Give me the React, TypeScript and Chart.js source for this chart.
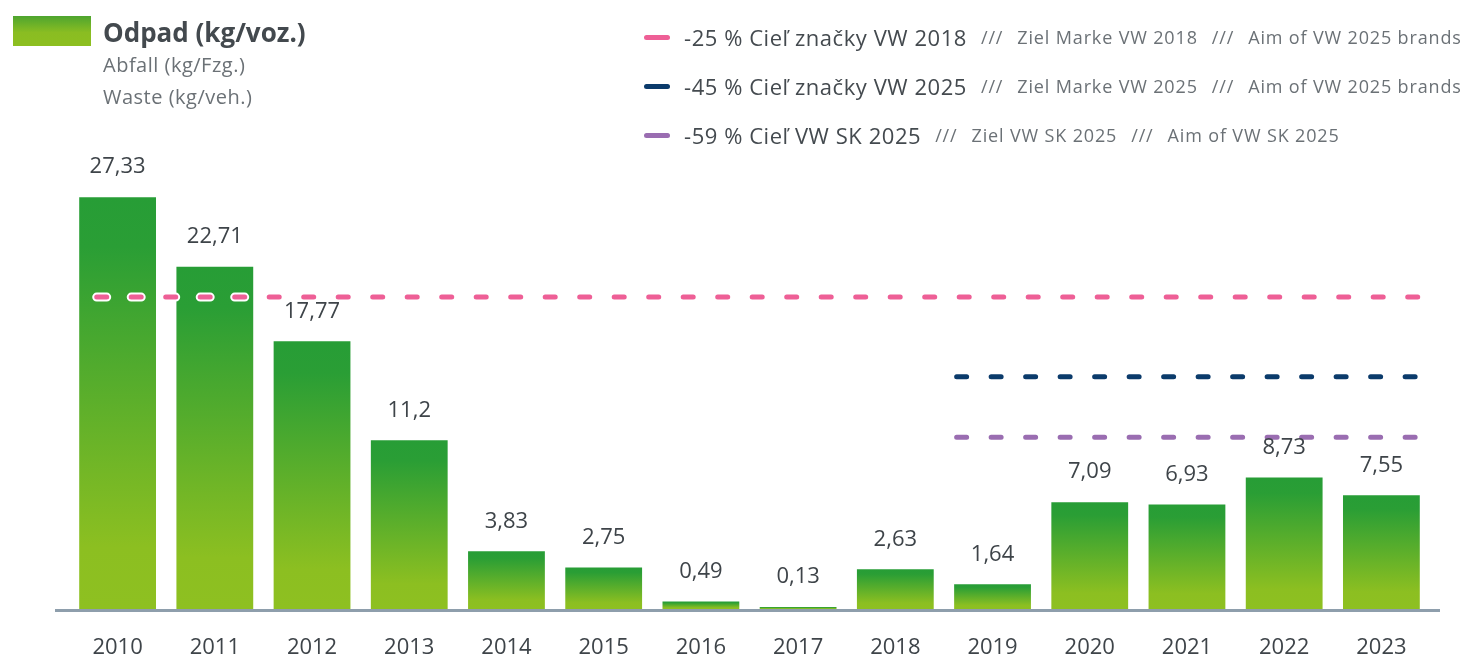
import React, { useEffect, useRef } from "react";
import { Chart, registerables } from "chart.js";

Chart.register(...registerables);

const years = ["2010", "2011", "2012", "2013", "2014", "2015", "2016", "2017", "2018", "2019", "2020", "2021", "2022", "2023"];
const wasteValues = [27.33, 22.71, 17.77, 11.2, 3.83, 2.75, 0.49, 0.13, 2.63, 1.64, 7.09, 6.93, 8.73, 7.55];

const targetMain = ["-25 % Cieľ značky VW 2018", "-45 % Cieľ značky VW 2025", "-59 % Cieľ VW SK 2025"];
const targetGerman = ["Ziel Marke VW 2018", "Ziel Marke VW 2025", "Ziel VW SK 2025"];
const targetEnglish = ["Aim of VW 2025 brands", "Aim of VW 2025 brands", "Aim of VW SK 2025"];
const targetValues = [20.7, 15.42, 11.4];
const targetStartYear = ["2010", "2019", "2019"];
const targetColors = ["#ee5f96", "#0b3b6b", "#9a6db1"];
const targetInset = [15, 0, 0];

const titleMain = "Odpad (kg/voz.)";
const titleSub = ["Abfall (kg/Fzg.)", "Waste (kg/veh.)"];

const FONT = "'Open Sans', 'Noto Sans', sans-serif";
const TEXT_DARK = "#3e4449";
const TEXT_LIGHT = "#6b7176";

const barGradient = (ctx: any) => {
  const chart = ctx.chart;
  const { chartArea, scales } = chart;
  if (!chartArea || ctx.raw === undefined) return "#5aae2b";
  const yTop = scales.y.getPixelForValue(ctx.raw);
  const yBot = scales.y.getPixelForValue(0);
  const g = chart.ctx.createLinearGradient(0, yTop, 0, yBot);
  g.addColorStop(0, "#279d36");
  g.addColorStop(0.12, "#2a9e35");
  g.addColorStop(0.85, "#8cbf21");
  g.addColorStop(1, "#8ec021");
  return g;
};

const decorPlugin = {
  id: "decor",
  afterDatasetsDraw(chart: any) {
    const { ctx, chartArea, scales } = chart;
    const meta = chart.getDatasetMeta(0);
    const barW = meta.data[0] ? meta.data[0].width : 0;
    // baseline
    ctx.save();
    ctx.strokeStyle = "#8e9eac";
    ctx.lineWidth = 3;
    ctx.beginPath();
    ctx.moveTo(chartArea.left - 14, chartArea.bottom + 1.5);
    ctx.lineTo(chartArea.right + 10, chartArea.bottom + 1.5);
    ctx.stroke();
    ctx.restore();
    // target lines
    targetValues.forEach((v, i) => {
      const y = scales.y.getPixelForValue(v);
      const startIdx = years.indexOf(targetStartYear[i]);
      const x0 = scales.x.getPixelForValue(startIdx) - barW / 2 + targetInset[i];
      const x1 = scales.x.getPixelForValue(years.length - 1) + barW / 2;
      ctx.save();
      ctx.lineCap = "round";
      ctx.setLineDash([10, 24.5]);
      ctx.strokeStyle = "#ffffff";
      ctx.lineWidth = 9;
      ctx.beginPath();
      ctx.moveTo(x0 + 2.5, y);
      ctx.lineTo(x1, y);
      ctx.stroke();
      ctx.strokeStyle = targetColors[i];
      ctx.lineWidth = 5;
      ctx.beginPath();
      ctx.moveTo(x0 + 2.5, y);
      ctx.lineTo(x1, y);
      ctx.stroke();
      ctx.restore();
    });
    // value labels
    ctx.save();
    ctx.font = `22px ${FONT}`;
    ctx.fillStyle = TEXT_DARK;
    ctx.textAlign = "center";
    ctx.textBaseline = "middle";
    meta.data.forEach((el: any, i: number) => {
      ctx.fillText(String(wasteValues[i]).replace(".", ","), el.x, el.y - 30);
    });
    ctx.restore();
  },
};

export default function App() {
  const canvasRef = useRef<HTMLCanvasElement>(null);

  useEffect(() => {
    document.body.style.margin = "0";
    const canvas = canvasRef.current;
    if (!canvas) return;
    const chart = new Chart(canvas, {
      type: "bar",
      data: {
        labels: years,
        datasets: [
          {
            label: titleMain,
            data: wasteValues,
            backgroundColor: barGradient,
            borderWidth: 0,
            barPercentage: 0.79,
            categoryPercentage: 1,
          },
        ],
      },
      options: {
        responsive: false,
        animation: false,
        devicePixelRatio: 1,
        layout: { padding: { left: 69, right: 49, top: 157, bottom: 0 } },
        plugins: { legend: { display: false }, tooltip: { enabled: false } },
        scales: {
          x: {
            grid: { display: false, drawTicks: false },
            border: { display: false },
            ticks: { color: TEXT_DARK, font: { family: FONT, size: 22 }, padding: 26, maxRotation: 0 },
            afterFit: (scale: any) => {
              scale.height = 48;
            },
          },
          y: { display: false, min: 0, max: 30 },
        },
      },
      plugins: [decorPlugin],
    });
    return () => chart.destroy();
  }, []);

  const rowCenters = [37, 86, 135];
  const sep = { marginLeft: 14 };

  return (
    <div style={{ position: "relative", width: 1479, height: 657, fontFamily: FONT, background: "#fff", overflow: "hidden" }}>
      <canvas ref={canvasRef} width={1479} height={657} style={{ position: "absolute", left: 0, top: 0 }} />
      <div
        style={{
          position: "absolute",
          left: 13,
          top: 16,
          width: 78,
          height: 30,
          background: "linear-gradient(to bottom, #4ea52f 0%, #8abd22 55%, #8dbf20 100%)",
        }}
      />
      <div style={{ position: "absolute", left: 103, top: 15, fontSize: 26, fontWeight: 700, color: "#43494e", lineHeight: "34px", whiteSpace: "nowrap" }}>
        {titleMain}
      </div>
      {titleSub.map((t, i) => (
        <div
          key={t}
          style={{ position: "absolute", left: 103, top: 52 + i * 32, fontSize: 20, letterSpacing: 0.5, color: TEXT_LIGHT, lineHeight: "26px", whiteSpace: "nowrap" }}
        >
          {t}
        </div>
      ))}
      {targetMain.map((t, i) => (
        <div
          key={t}
          style={{ position: "absolute", left: 644, top: rowCenters[i] - 19, height: 38, display: "flex", alignItems: "center", whiteSpace: "pre" }}
        >
          <span style={{ display: "inline-block", width: 26, height: 5, borderRadius: 3, background: targetColors[i], marginRight: 14 }} />
          <span style={{ fontSize: 22, letterSpacing: 0.55, color: "#444a4f" }}>{t}</span>
          <span style={{ fontSize: 18, letterSpacing: 0.85, color: TEXT_LIGHT, ...sep }}>///</span>
          <span style={{ fontSize: 18, letterSpacing: 0.85, color: TEXT_LIGHT, ...sep }}>{targetGerman[i]}</span>
          <span style={{ fontSize: 18, letterSpacing: 0.85, color: TEXT_LIGHT, ...sep }}>///</span>
          <span style={{ fontSize: 18, letterSpacing: 0.85, color: TEXT_LIGHT, ...sep }}>{targetEnglish[i]}</span>
        </div>
      ))}
    </div>
  );
}
